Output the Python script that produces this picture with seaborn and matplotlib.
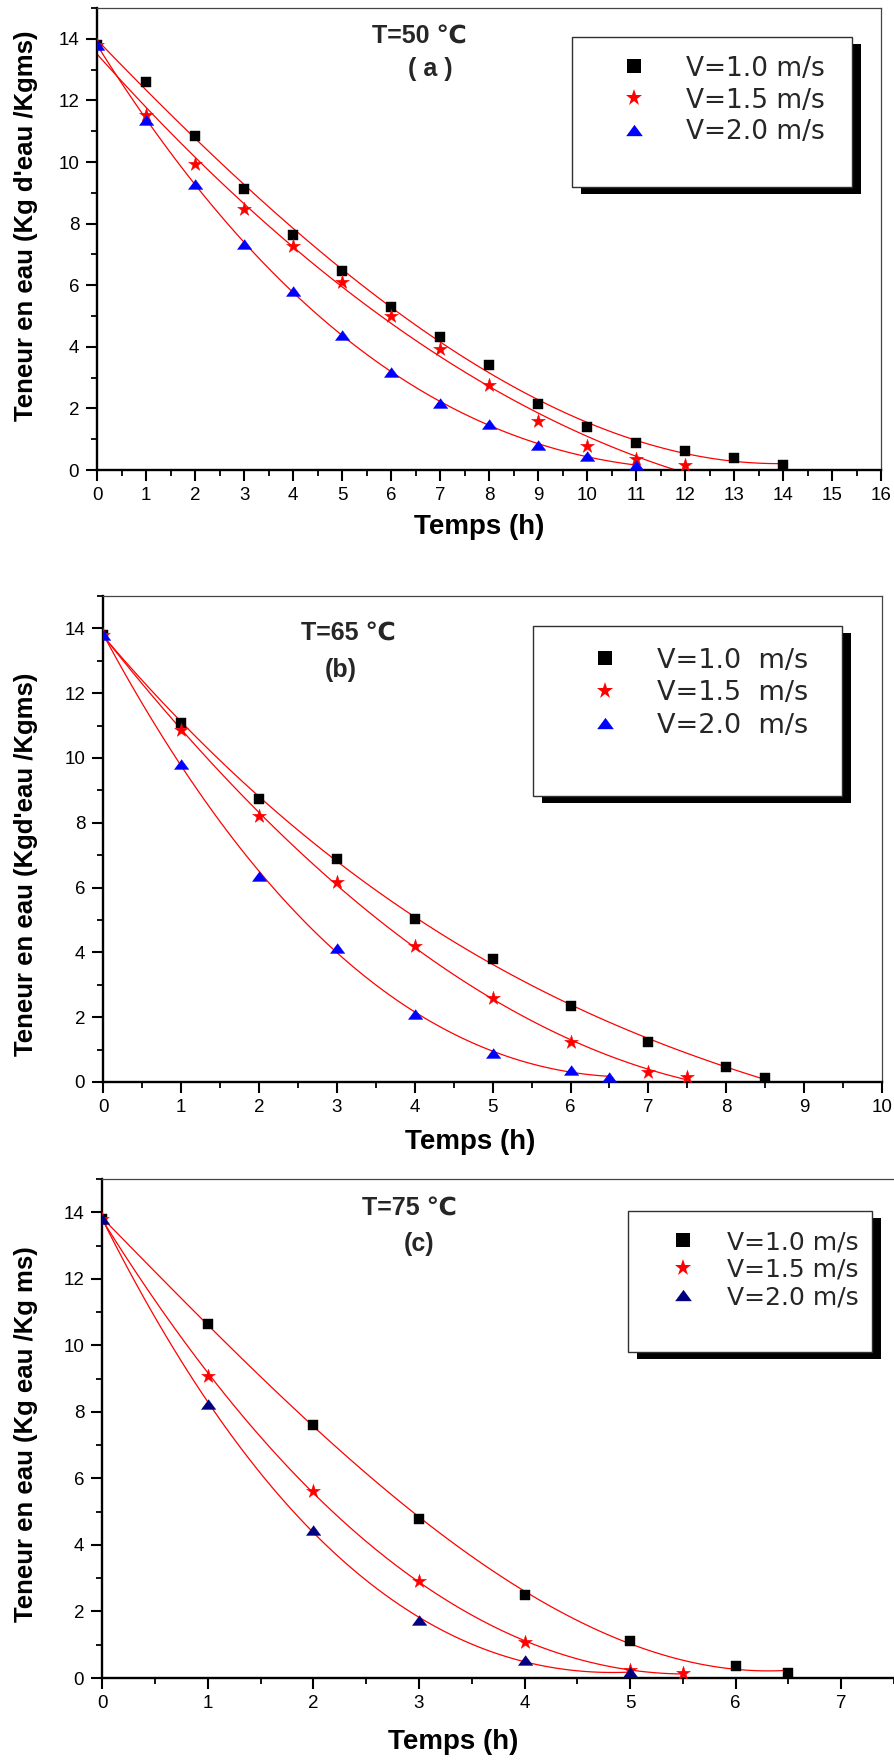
import numpy as np
import pandas as pd
import matplotlib
matplotlib.use("Agg")
import matplotlib.pyplot as plt
from matplotlib.lines import Line2D
from matplotlib.patches import Rectangle
from matplotlib.ticker import MultipleLocator
import seaborn as sns

# ---- moisture content (Kg water / Kg dry matter) versus drying time (h) ----
# T = 50 °C
t_50_v10 = [0, 1, 2, 3, 4, 5, 6, 7, 8, 9, 10, 11, 12, 13, 14]
x_50_v10 = [13.8, 12.6, 10.86, 9.12, 7.64, 6.47, 5.30, 4.33, 3.40, 2.13, 1.41, 0.87, 0.61, 0.39, 0.15]
t_50_v15 = [0, 1, 2, 3, 4, 5, 6, 7, 8, 9, 10, 11, 12]
x_50_v15 = [13.8, 11.52, 9.92, 8.49, 7.26, 6.10, 4.99, 3.94, 2.77, 1.60, 0.78, 0.36, 0.15]
t_50_v20 = [0, 1, 2, 3, 4, 5, 6, 7, 8, 9, 10, 11]
x_50_v20 = [13.8, 11.35, 9.29, 7.35, 5.80, 4.38, 3.18, 2.19, 1.49, 0.82, 0.46, 0.15]

# T = 65 °C
t_65_v10 = [0, 1, 2, 3, 4, 5, 6, 7, 8, 8.5]
x_65_v10 = [13.8, 11.08, 8.73, 6.89, 5.03, 3.79, 2.35, 1.24, 0.46, 0.12]
t_65_v15 = [0, 1, 2, 3, 4, 5, 6, 7, 7.5]
x_65_v15 = [13.8, 10.87, 8.20, 6.16, 4.21, 2.58, 1.24, 0.32, 0.14]
t_65_v20 = [0, 1, 2, 3, 4, 5, 6, 6.5]
x_65_v20 = [13.8, 9.82, 6.36, 4.15, 2.11, 0.90, 0.38, 0.14]

# T = 75 °C
t_75_v10 = [0, 1, 2, 3, 4, 5, 6, 6.5]
x_75_v10 = [13.8, 10.65, 7.62, 4.79, 2.51, 1.10, 0.36, 0.15]
t_75_v15 = [0, 1, 2, 3, 4, 5, 5.5]
x_75_v15 = [13.8, 9.09, 5.61, 2.93, 1.07, 0.23, 0.14]
t_75_v20 = [0, 1, 2, 3, 4, 5]
x_75_v20 = [13.8, 8.25, 4.46, 1.74, 0.53, 0.17]

titles = ["T=50 \u2103", "T=65 \u2103", "T=75 \u2103"]
subtitles = ["( a )", "(b)", "(c)"]
ylabels = ["Teneur en eau (Kg d'eau /Kgms)",
           "Teneur en eau (Kgd'eau /Kgms)",
           "Teneur en eau (Kg eau /Kg ms)"]
xlabel = "Temps (h)"
legend_labels = [["V=1.0 m/s", "V=1.5 m/s", "V=2.0 m/s"],
                 ["V=1.0  m/s", "V=1.5  m/s", "V=2.0  m/s"],
                 ["V=1.0 m/s", "V=1.5 m/s", "V=2.0 m/s"]]
x_limits = [16, 10, 7.5]

series = [
    [(t_50_v10, x_50_v10), (t_50_v15, x_50_v15), (t_50_v20, x_50_v20)],
    [(t_65_v10, x_65_v10), (t_65_v15, x_65_v15), (t_65_v20, x_65_v20)],
    [(t_75_v10, x_75_v10), (t_75_v15, x_75_v15), (t_75_v20, x_75_v20)],
]

sns.set_theme(style="ticks")
plt.rcParams["font.family"] = ["Liberation Sans", "DejaVu Sans"]

W, H = 894, 1760
fig = plt.figure(figsize=(W / 100, H / 100), dpi=100)
fig.patch.set_facecolor("white")


def fx(px):
    return px / W


def fy(py):
    return 1 - py / H


# flattened triangle marker
tri = [(-1.0, -0.68), (1.0, -0.68), (0.0, 0.68)]
marker_shapes = ["s", "*", tri]
marker_sizes = [58, 110, 110]
legend_ms = [9.5, 12.5, 12]

# layout of each panel, in pixels: axes box, label/title anchors, legend box
layouts = [
    dict(box=(97.3, 8, 881, 470), ylab=(26, 226), xlab=(479, 527),
         title=(419, 36), sub=(430, 69), leg=(572, 37, 852, 187),
         leg_anchor=(621, 100.5), leg_fs=19, leg_htp=1.45, leg_ls=0.22,
         tri_color="#0000FF", right_spine=True),
    dict(box=(103.3, 596, 882, 1082), ylab=(26, 864), xlab=(470, 1142),
         title=(348, 633), sub=(341, 670), leg=(533, 626, 842, 796),
         leg_anchor=(591.5, 693), leg_fs=19.5, leg_htp=1.42, leg_ls=0.24,
         tri_color="#0000FF", right_spine=True),
    dict(box=(102.3, 1179, 894, 1678), ylab=(26, 1434), xlab=(453, 1742),
         title=(409, 1208), sub=(419, 1244), leg=(628, 1211, 872, 1352),
         leg_anchor=(670.5, 1269.5), leg_fs=18, leg_htp=1.25, leg_ls=0.14,
         tri_color="#000080", right_spine=False),
]

for k, lay in enumerate(layouts):
    l, t, r, b = lay["box"]
    ax = fig.add_axes([fx(l), fy(b), (r - l) / W, (b - t) / H])
    ax.set_facecolor("white")
    colors = ["#000000", "#FF0000", lay["tri_color"]]

    for j, (tt, xx) in enumerate(series[k]):
        sns.regplot(x=np.array(tt, float), y=np.array(xx, float), order=3,
                    scatter=False, ci=None, truncate=True, ax=ax,
                    color="#FF0000", line_kws=dict(lw=0.9, zorder=2))
        sns.scatterplot(x=tt, y=xx, marker=marker_shapes[j], s=marker_sizes[j],
                        color=colors[j], edgecolor=colors[j], linewidth=0.3,
                        ax=ax, zorder=3, legend=False)

    ax.set_xlim(0, x_limits[k])
    ax.set_ylim(0, 15)
    ax.xaxis.set_major_locator(MultipleLocator(1))
    ax.xaxis.set_minor_locator(MultipleLocator(0.5))
    ax.yaxis.set_major_locator(MultipleLocator(2))
    ax.yaxis.set_minor_locator(MultipleLocator(1))
    ax.tick_params(which="major", direction="out", length=8, width=1.5,
                   labelsize=13.5, color="black", labelcolor="black")
    ax.tick_params(axis="y", which="major", pad=5)
    ax.tick_params(axis="x", which="major", pad=4)
    ax.tick_params(which="minor", direction="out", length=4, width=1.3,
                   color="black")
    ax.tick_params(top=False, right=False, which="both")

    for side in ["left", "bottom"]:
        ax.spines[side].set_linewidth(1.7)
        ax.spines[side].set_color("black")
    for side in ["top", "right"]:
        ax.spines[side].set_linewidth(0.9)
        ax.spines[side].set_color("#444444")
    ax.spines["right"].set_visible(lay["right_spine"])
    ax.grid(False)

    ax.set_ylabel(ylabels[k], fontsize=18.5, fontweight="bold", va="center",
                  ha="center", color="black")
    ax.yaxis.set_label_coords(fx(lay["ylab"][0]), fy(lay["ylab"][1]),
                              transform=fig.transFigure)
    ax.set_xlabel(xlabel, fontsize=20, fontweight="bold", va="center",
                  ha="center", color="black")
    ax.xaxis.set_label_coords(fx(lay["xlab"][0]), fy(lay["xlab"][1]),
                              transform=fig.transFigure)

    fig.text(fx(lay["title"][0]), fy(lay["title"][1]), titles[k],
             ha="center", va="center", fontsize=18, fontweight="bold")
    fig.text(fx(lay["sub"][0]), fy(lay["sub"][1]), subtitles[k],
             ha="center", va="center", fontsize=18, fontweight="bold")

    # legend frame with drop shadow
    bl, bt, br, bb = lay["leg"]
    fig.patches.append(Rectangle((fx(bl + 9), fy(bb + 7)), (br - bl) / W,
                                 (bb - bt) / H, transform=fig.transFigure,
                                 facecolor="black", edgecolor="none", zorder=5))
    fig.patches.append(Rectangle((fx(bl), fy(bb)), (br - bl) / W,
                                 (bb - bt) / H, transform=fig.transFigure,
                                 facecolor="white", edgecolor="#303030",
                                 linewidth=1.0, zorder=6))

    handles = [Line2D([], [], ls="none", marker=marker_shapes[j],
                      markersize=legend_ms[j], color=colors[j],
                      markeredgewidth=0) for j in range(3)]
    leg = ax.legend(handles, legend_labels[k], loc="center left",
                    bbox_to_anchor=(fx(lay["leg_anchor"][0]), fy(lay["leg_anchor"][1])),
                    bbox_transform=fig.transFigure, frameon=False,
                    borderpad=0, borderaxespad=0, handlelength=1.0,
                    handletextpad=lay["leg_htp"], labelspacing=lay["leg_ls"],
                    prop=dict(family="DejaVu Sans", size=lay["leg_fs"]))
    leg.set_zorder(10)
    # draw the legend above the figure-level frame
    leg.remove()
    fig.legends.append(leg)
    leg.figure = fig

fig.savefig("out.png", dpi=100, facecolor="white")
